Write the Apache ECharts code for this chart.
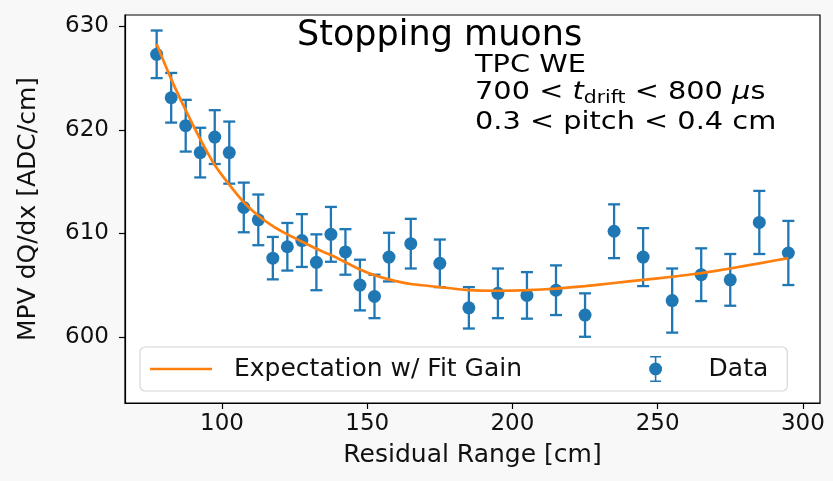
<!DOCTYPE html>
<html>
<head>
<meta charset="utf-8">
<script src="https://cdn.jsdelivr.net/npm/echarts@6/dist/echarts.min.js"></script>
<style>
  html, body { margin: 0; padding: 0; background: #f8f8f8; }
  #chart { width: 833px; height: 481px; }
</style>
</head>
<body>
<div id="chart"></div>
<script>
// Residual range bin centres [cm]
const residualRange = [77.5, 82.5, 87.5, 92.5, 97.5, 102.5, 107.5, 112.5, 117.5, 122.5,
  127.5, 132.5, 137.5, 142.5, 147.5, 152.5, 157.5, 165, 175, 185, 195, 205, 215, 225,
  235, 245, 255, 265, 275, 285, 295];
// Measured MPV dQ/dx [ADC/cm]
const mpvData = [627.3, 623.1, 620.4, 617.8, 619.3, 617.8, 612.5, 611.3, 607.6, 608.7,
  609.3, 607.2, 609.9, 608.2, 605.0, 603.9, 607.7, 609.0, 607.1, 602.8, 604.2, 604.0,
  604.5, 602.1, 610.2, 607.7, 603.5, 606.0, 605.5, 611.05, 608.1];
// Uncertainty on each MPV (symmetric)
const mpvErr = [2.3, 2.4, 2.5, 2.4, 2.6, 3.0, 2.4, 2.45, 2.05, 2.3, 2.55, 2.7, 2.65, 2.2,
  2.45, 2.1, 2.35, 2.4, 2.3, 2.0, 2.4, 2.25, 2.4, 2.1, 2.6, 2.8, 3.1, 2.55, 2.5, 3.05, 3.1];
// Expected MPV using the fitted gain
const mpvExpected = [628.3, 624.9, 621.9, 619.1, 616.6, 614.7, 613.0, 611.7, 610.7, 609.9,
  609.2, 608.5, 607.9, 607.2, 606.5, 605.95, 605.55, 605.1, 604.8, 604.5, 604.45, 604.5,
  604.65, 604.9, 605.2, 605.5, 605.8, 606.15, 606.6, 607.1, 607.6];
// Tick labels
const xTicks = [100, 150, 200, 250, 300];
const yTicks = [600, 610, 620, 630];

const BLUE = '#1f77b4';
const ORANGE = '#ff7f0e';
const FONT = 'DejaVu Sans';
const INK = '#111';

const points = residualRange.map((x, i) => [x, mpvData[i]]);
const bars = residualRange.map((x, i) => [x, mpvData[i], mpvErr[i]]);
const fit = residualRange.map((x, i) => [x, mpvExpected[i]]);

// Legend glyphs: a plain line for the expectation, a marker with error bar for data
const lineIcon = 'path://M0,0 H62 V2.7 H0 Z';
const dataIcon = 'path://M1,0 H12 V1.6 H1 Z M5.7,0 H7.3 V26 H5.7 Z M1,24.4 H12 V26 H1 Z ' +
  'M0,13 A6.5,6.5 0 1 1 13,13 A6.5,6.5 0 1 1 0,13 Z';

const chart = echarts.init(document.getElementById('chart'), null, { renderer: 'canvas' });

chart.setOption({
  animation: false,
  backgroundColor: '#f8f8f8',
  grid: {
    left: 125, right: 13, top: 15, bottom: 78,
    show: true, backgroundColor: '#fff', borderColor: '#000', borderWidth: 1.2
  },
  xAxis: {
    type: 'value', min: 66.6, max: 305.9,
    name: 'Residual Range [cm]', nameLocation: 'middle', nameGap: 40,
    nameTextStyle: { fontFamily: FONT, fontSize: 25, color: INK },
    axisLine: { show: true, onZero: false, lineStyle: { color: '#000', width: 1.2 } },
    axisTick: { show: true, customValues: xTicks, length: 6, lineStyle: { color: '#000', width: 1.2 } },
    axisLabel: { customValues: xTicks, margin: 10, fontFamily: FONT, fontSize: 23, color: INK },
    splitLine: { show: false }
  },
  yAxis: {
    type: 'value', min: 593.6, max: 631.1,
    name: 'MPV dQ/dx [ADC/cm]', nameLocation: 'middle', nameGap: 84, nameRotate: 90,
    nameTextStyle: { fontFamily: FONT, fontSize: 25, color: INK },
    axisLine: { show: true, onZero: false, lineStyle: { color: '#000', width: 1.2 } },
    axisTick: { show: true, customValues: yTicks, length: 6, lineStyle: { color: '#000', width: 1.2 } },
    axisLabel: { customValues: yTicks, margin: 16, fontFamily: FONT, fontSize: 23, color: INK },
    splitLine: { show: false }
  },
  legend: {
    left: 140, top: 347,
    padding: [9, 19, 9, 10],
    itemGap: 127, itemWidth: 62, itemHeight: 26,
    backgroundColor: 'rgba(255,255,255,0.8)',
    borderColor: '#d6d6d6', borderWidth: 1.2, borderRadius: 5,
    textStyle: { fontFamily: FONT, fontSize: 25, color: INK, padding: [0, 0, 0, 17] },
    data: [
      { name: 'Expectation w/ Fit Gain', icon: lineIcon, itemStyle: { color: ORANGE } },
      { name: 'Data', icon: dataIcon, itemStyle: { color: BLUE } }
    ]
  },
  series: [
    {
      name: 'Data', type: 'custom', data: bars, z: 2,
      itemStyle: { color: BLUE },
      renderItem: function (params, api) {
        const x = api.value(0), y = api.value(1), e = api.value(2);
        const hi = api.coord([x, y + e]);
        const lo = api.coord([x, y - e]);
        const cap = 6;
        const st = { stroke: BLUE, lineWidth: 2.3 };
        return {
          type: 'group',
          children: [
            { type: 'line', shape: { x1: hi[0], y1: hi[1], x2: lo[0], y2: lo[1] }, style: st },
            { type: 'line', shape: { x1: hi[0] - cap, y1: hi[1], x2: hi[0] + cap, y2: hi[1] }, style: st },
            { type: 'line', shape: { x1: lo[0] - cap, y1: lo[1], x2: lo[0] + cap, y2: lo[1] }, style: st }
          ]
        };
      }
    },
    {
      name: 'Data', type: 'scatter', data: points, z: 3,
      symbol: 'circle', symbolSize: 13,
      itemStyle: { color: BLUE, opacity: 1 }
    },
    {
      name: 'Expectation w/ Fit Gain', type: 'line', data: fit, z: 4,
      symbol: 'none', smooth: 0.15,
      lineStyle: { color: ORANGE, width: 2.7 },
      itemStyle: { color: ORANGE }
    }
  ],
  graphic: [
    {
      type: 'text', x: 297, y: 36, z: 10,
      style: { text: 'Stopping muons', fontFamily: FONT, fontSize: 35, fill: '#000',
        verticalAlign: 'middle', align: 'left' }
    },
    {
      type: 'text', x: 475, y: 65.5, scaleX: 1.2, z: 10,
      style: { text: 'TPC WE', fontFamily: FONT, fontSize: 24, fill: '#000',
        verticalAlign: 'middle', align: 'left' }
    },
    {
      type: 'text', x: 475, y: 92.5, scaleX: 1.2, z: 10,
      style: {
        text: '700 < {it|t}{sub|drift} < 800 {it|μ}s',
        fontFamily: FONT, fontSize: 24, fill: '#000', lineHeight: 30,
        verticalAlign: 'middle', align: 'left',
        rich: {
          it: { fontFamily: FONT, fontSize: 24, fontStyle: 'italic', fill: '#000', lineHeight: 30 },
          sub: { fontFamily: FONT, fontSize: 17, fill: '#000', lineHeight: 20, verticalAlign: 'bottom' }
        }
      }
    },
    {
      type: 'text', x: 475, y: 123, scaleX: 1.2, z: 10,
      style: { text: '0.3 < pitch < 0.4 cm', fontFamily: FONT, fontSize: 24, fill: '#000',
        verticalAlign: 'middle', align: 'left' }
    }
  ]
});
</script>
</body>
</html>
